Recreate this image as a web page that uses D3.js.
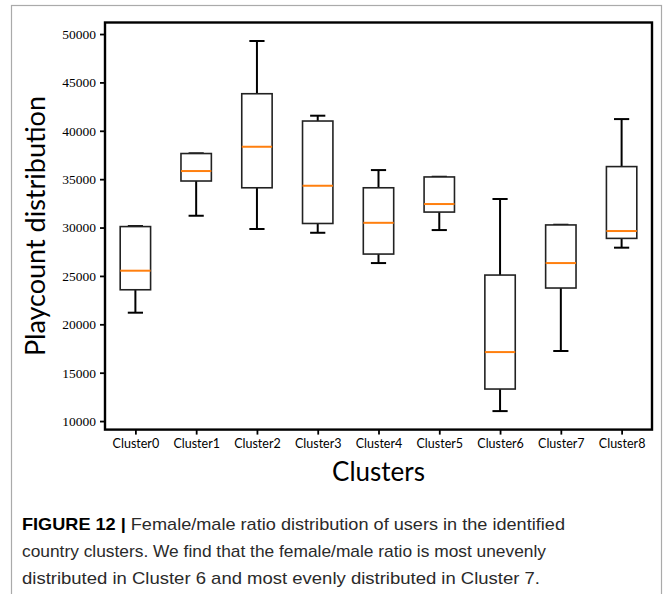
<!DOCTYPE html>
<html>
<head>
<meta charset="utf-8">
<script src="https://cdn.jsdelivr.net/npm/d3@7"></script>
<style>
  html, body { margin: 0; padding: 0; background: #fff; }
  svg { display: block; }
</style>
</head>
<body>
<svg id="chart" width="663" height="594"></svg>
<script>
// ---- data ----
const categories = ["Cluster0","Cluster1","Cluster2","Cluster3","Cluster4","Cluster5","Cluster6","Cluster7","Cluster8"];
const whiskerLow  = [21200, 31220, 29850, 29460, 26330, 29740, 11030, 17240, 27920];
const q1Values    = [23570, 34810, 34110, 30420, 27260, 31600, 13310, 23750, 28880];
const medianValues= [25540, 35840, 38350, 34320, 30490, 32430, 17130, 26330, 29640];
const q3Values    = [30100, 37650, 43830, 41010, 34110, 35230, 25090, 30270, 36300];
const whiskerHigh = [30150, 37670, 49280, 41560, 35940, 35250, 32950, 30290, 41210];
const yTickValues = [10000, 15000, 20000, 25000, 30000, 35000, 40000, 45000, 50000];
const yLabel = "Playcount distribution";
const xLabel = "Clusters";
const captionBold = "FIGURE 12 |";
const captionLines = [
  " Female/male ratio distribution of users in the identified",
  "country clusters. We find that the female/male ratio is most unevenly",
  "distributed in Cluster 6 and most evenly distributed in Cluster 7."
];

const svg = d3.select("#chart");
const plot = { left: 105, right: 652, top: 22.5, bottom: 429.6 };

// outer figure border
svg.append("rect")
  .attr("x", 11.5).attr("y", 5.5)
  .attr("width", 650).attr("height", 600)
  .attr("fill", "none").attr("stroke", "#aaaaaa").attr("stroke-width", 1.2);

const x = d3.scaleLinear().domain([0.5, categories.length + 0.5]).range([plot.left, plot.right]);
const y = d3.scaleLinear().domain([9118, 51192]).range([plot.bottom, plot.top]);

const data = categories.map((c, i) => ({
  name: c, pos: i + 1,
  lo: whiskerLow[i], q1: q1Values[i], med: medianValues[i], q3: q3Values[i], hi: whiskerHigh[i]
}));

const boxW = 0.5, capW = 0.25;
const g = svg.append("g");

const boxes = g.selectAll("g.box").data(data).join("g").attr("class", "box");
// whiskers
boxes.append("line")
  .attr("x1", d => x(d.pos)).attr("x2", d => x(d.pos))
  .attr("y1", d => y(d.q1)).attr("y2", d => y(d.lo))
  .attr("stroke", "#000").attr("stroke-width", 2);
boxes.append("line")
  .attr("x1", d => x(d.pos)).attr("x2", d => x(d.pos))
  .attr("y1", d => y(d.q3)).attr("y2", d => y(d.hi))
  .attr("stroke", "#000").attr("stroke-width", 2);
// caps
boxes.append("line")
  .attr("x1", d => x(d.pos - capW / 2)).attr("x2", d => x(d.pos + capW / 2))
  .attr("y1", d => y(d.lo)).attr("y2", d => y(d.lo))
  .attr("stroke", "#000").attr("stroke-width", 2);
boxes.append("line")
  .attr("x1", d => x(d.pos - capW / 2)).attr("x2", d => x(d.pos + capW / 2))
  .attr("y1", d => y(d.hi)).attr("y2", d => y(d.hi))
  .attr("stroke", "#000").attr("stroke-width", 2);
// box
boxes.append("rect")
  .attr("x", d => x(d.pos - boxW / 2))
  .attr("width", d => x(d.pos + boxW / 2) - x(d.pos - boxW / 2))
  .attr("y", d => y(d.q3))
  .attr("height", d => y(d.q1) - y(d.q3))
  .attr("fill", "#fff").attr("stroke", "#222").attr("stroke-width", 1.6);
// median
boxes.append("line")
  .attr("x1", d => x(d.pos - boxW / 2)).attr("x2", d => x(d.pos + boxW / 2))
  .attr("y1", d => y(d.med)).attr("y2", d => y(d.med))
  .attr("stroke", "#ff7f0e").attr("stroke-width", 2);

// axes
const yAxis = d3.axisLeft(y).tickValues(yTickValues).tickFormat(d3.format("d")).tickSize(5).tickPadding(4);
const yg = svg.append("g").attr("transform", `translate(${plot.left},0)`).call(yAxis);
yg.select(".domain").remove();
yg.selectAll(".tick line").attr("stroke", "#000").attr("stroke-width", 1.8);
yg.selectAll(".tick text").attr("font-family", "'Liberation Serif', 'DejaVu Serif', serif")
  .attr("font-size", 13.5).attr("fill", "#000");

const xAxis = d3.axisBottom(x).tickValues(data.map(d => d.pos)).tickFormat((d, i) => categories[i]).tickSize(5).tickPadding(5);
const xg = svg.append("g").attr("transform", `translate(0,${plot.bottom})`).call(xAxis);
xg.select(".domain").remove();
xg.selectAll(".tick line").attr("stroke", "#000").attr("stroke-width", 1.8);
xg.selectAll(".tick text").attr("font-family", "Lato, 'Open Sans', sans-serif")
  .attr("font-size", 12.5).attr("fill", "#000");

// frame
svg.append("rect")
  .attr("x", plot.left).attr("y", plot.top)
  .attr("width", plot.right - plot.left).attr("height", plot.bottom - plot.top)
  .attr("fill", "none").attr("stroke", "#000").attr("stroke-width", 2.4);

// axis labels
svg.append("text")
  .attr("transform", `translate(45,${(plot.top + plot.bottom) / 2}) rotate(-90)`)
  .attr("text-anchor", "middle")
  .attr("font-family", "Lato, 'Open Sans', sans-serif")
  .attr("font-size", 27).attr("fill", "#000")
  .text(yLabel);

svg.append("text")
  .attr("x", (plot.left + plot.right) / 2).attr("y", 481)
  .attr("text-anchor", "middle")
  .attr("font-family", "Lato, 'Open Sans', sans-serif")
  .attr("font-size", 26).attr("fill", "#000")
  .text(xLabel);

// caption
const cap = svg.append("g").attr("font-family", "'Liberation Sans', Arial, sans-serif").attr("font-size", 17).attr("fill", "#2a2a2a");
const t0 = cap.append("text").attr("x", 22).attr("y", 530)
  .attr("textLength", 543).attr("lengthAdjust", "spacingAndGlyphs");
t0.append("tspan").attr("font-weight", "bold").attr("fill", "#000").text(captionBold);
t0.append("tspan").text(captionLines[0]);
cap.append("text").attr("x", 22).attr("y", 557)
  .attr("textLength", 524).attr("lengthAdjust", "spacingAndGlyphs").text(captionLines[1]);
cap.append("text").attr("x", 22).attr("y", 584)
  .attr("textLength", 518).attr("lengthAdjust", "spacingAndGlyphs").text(captionLines[2]);
</script>
</body>
</html>
